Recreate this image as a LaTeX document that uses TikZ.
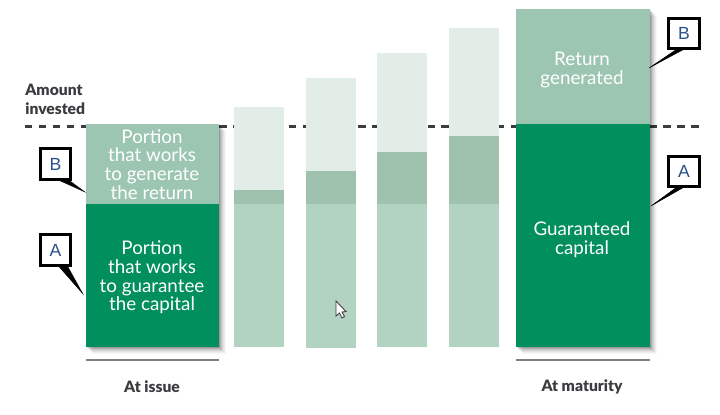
\documentclass[tikz,border=0pt]{standalone}
\usepackage{fontspec}
\setmainfont{Lato}
\newfontfamily\axisfont{Lato Black}
\newfontfamily\calloutfont{Liberation Sans}
\usepackage{xcolor}
\usetikzlibrary{positioning}
\definecolor{capitalgreen}{HTML}{008F5D}
\definecolor{returngreen}{HTML}{9CC6B1}
\definecolor{fadedcapital}{HTML}{B2D2C2}
\definecolor{fadedreturn}{HTML}{9EC2AE}
\definecolor{palereturn}{HTML}{E2EDE7}
\definecolor{inkgray}{HTML}{3C3C40}
\definecolor{calloutblue}{HTML}{2B4F8C}
\tikzset{
	bartext/.style={text=white, align=center, font=\fontsize{10.7}{10.7}\selectfont, inner sep=0pt},
	axistext/.style={text=inkgray, font=\fontsize{8.9}{10.8}\axisfont, inner sep=0pt},
	calloutbox/.style={draw=black, fill=white, line width=1.7pt, minimum width=17.3pt, minimum height=17.3pt, inner sep=0pt, text=calloutblue, font=\fontsize{10}{11}\calloutfont},
	callouttail/.style={fill=black, draw=black, line width=0.2pt},
}
\begin{document}
\begin{tikzpicture}[x=0.02cm, y=-0.02cm]
	\useasboundingbox (0,0) rectangle (720,414);
	\draw[inkgray, line width=1.7pt, dash pattern=on 4.2pt off 3.7pt] (25,126)--(705,126);
	\foreach \off/\op in {1/0.12, 2/0.10, 3/0.08, 4/0.06, 5/0.05, 6/0.04, 7/0.03} {
		\fill[black, opacity=\op] (85.5+\off,124+\off) rectangle (219+\off,347+\off);
		\fill[black, opacity=\op] (516+\off,9+\off) rectangle (649.5+\off,347+\off);
	}
	\fill[returngreen] (85.5,124) rectangle (219,204);
	\fill[capitalgreen] (85.5,204) rectangle (219,347);
	\foreach \left/\top/\mid/\bottom in {234/107/190/347, 306/78/171/348, 377/53/152/347, 449/28/136/347} {
		\fill[palereturn] (\left,\top) rectangle (\left+50,\mid);
		\fill[fadedreturn] (\left,\mid) rectangle (\left+50,204);
		\fill[fadedcapital] (\left,204) rectangle (\left+50,\bottom);
	}
	\fill[returngreen] (516,9) rectangle (649.5,124);
	\fill[capitalgreen] (516,124) rectangle (649.5,347);
	\draw[gray, line width=0.8pt] (85.5,360)--(219,360);
	\draw[gray, line width=0.8pt] (516,360)--(649.5,360);
	\node[axistext, align=left, anchor=west] (amount) at (25,99) {Amount\\invested};
	\node[axistext] (issue) at (152,386.5) {At issue};
	\node[axistext] (maturity) at (582,386.5) {At maturity};
	\node[bartext] (generate) at (152,164.5) {Portion\\that works\\to generate\\the return};
	\node[bartext] (guarantee) at (152,277.5) {Portion\\that works\\to guarantee\\the capital};
	\node[bartext] (generated) at (582,70) {Return\\generated};
	\node[bartext] (guaranteed) at (582,239.5) {Guaranteed\\capital};
	\fill[white, draw=inkgray, line width=0.5pt] (336,301)--(336,316)--(339.5,313)--(342,318)--(344.5,316.5)--(342,312)--(346,311.5)--cycle;
	\coordinate (tipbleft) at (85,192);
	\coordinate (tipaleft) at (83,294);
	\coordinate (tipbright) at (649,68);
	\coordinate (tiparight) at (651,206);
	\node[calloutbox] (boxbleft) at (55.5,164) {B};
	\node[calloutbox] (boxaleft) at (55.5,250) {A};
	\node[calloutbox] (boxbright) at (684,33.5) {B};
	\node[calloutbox] (boxaright) at (684,171.5) {A};
	\filldraw[callouttail] ([xshift=2.5pt]boxbleft.south)--(tipbleft)--([xshift=8pt]boxbleft.south)--cycle;
	\filldraw[callouttail] ([xshift=2pt]boxaleft.south)--(tipaleft)--([xshift=7pt]boxaleft.south)--cycle;
	\filldraw[callouttail] ([xshift=-5pt]boxbright.south)--(tipbright)--([xshift=-1pt]boxbright.south)--cycle;
	\filldraw[callouttail] ([xshift=-5pt]boxaright.south)--(tiparight)--([xshift=-1pt]boxaright.south)--cycle;
\end{tikzpicture}
\end{document}
